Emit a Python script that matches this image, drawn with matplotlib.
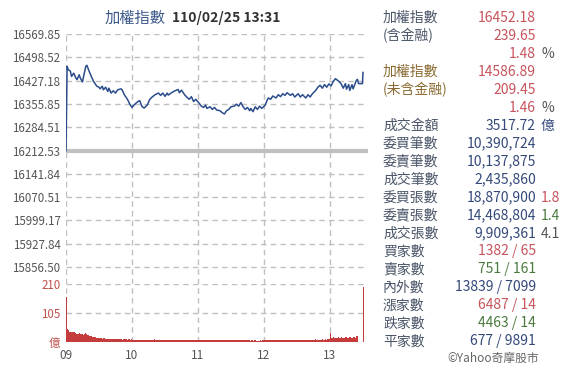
import numpy as np
import matplotlib
matplotlib.use("Agg")
import matplotlib.pyplot as plt

plt.rcParams['font.family'] = ['Noto Sans CJK TC', 'DejaVu Sans']

W, H = 576, 377

# ---------------- data ----------------
prev_close = 16212.53
price_ticks = [16569.85, 16498.52, 16427.18, 16355.85, 16284.51, 16212.53,
               16141.84, 16070.51, 15999.17, 15927.84, 15856.50]
hour_labels = ["09", "10", "11", "12", "13"]
vol_ticks = [0, 105, 210]
vol_tick_labels = ["億", "105", "210"]

# minutes after 09:00 and index level
price_min = [0, 1, 2, 4, 5, 7, 9, 10, 12, 13, 15, 16, 18, 19, 21, 23, 25, 28, 30, 31,
             33, 34, 36, 38, 39, 41, 43, 45, 47, 50, 51, 53, 56, 58, 60, 62, 65, 67, 69,
             71, 74, 76, 78, 81, 84, 86, 88, 90, 92, 93, 96, 99, 102, 103, 105, 108, 110,
             112, 114, 116, 118, 121, 123, 125, 127, 128, 131, 133, 135, 137, 140, 142,
             144, 146, 148, 150, 153, 155, 157, 159, 161, 163, 165, 167, 168, 170, 172,
             174, 176, 178, 181, 183, 184, 186, 188, 191, 193, 195, 197, 199, 201, 204,
             206, 208, 211, 213, 215, 218, 220, 222, 224, 227, 229, 231, 233, 235, 237,
             239, 241, 243, 245, 248, 250, 252, 254, 255, 257, 258, 260, 261, 264, 265,
             266, 269.5, 270]
price_val = [16212.53, 16471, 16461, 16456, 16440, 16450, 16435, 16430, 16445, 16435,
             16423, 16440, 16471, 16474, 16456, 16440, 16425, 16410, 16407, 16402,
             16410, 16399, 16407, 16394, 16404, 16389, 16396, 16389, 16399, 16402,
             16399, 16384, 16369, 16355, 16345, 16353, 16362, 16366, 16348, 16343,
             16353, 16369, 16376, 16384, 16389, 16382, 16389, 16379, 16389, 16383,
             16390, 16396, 16400, 16390, 16398, 16383, 16376, 16370, 16378, 16363,
             16370, 16358, 16349, 16345, 16352, 16342, 16347, 16339, 16345, 16337,
             16335, 16329, 16325, 16335, 16339, 16347, 16349, 16355, 16349, 16360,
             16347, 16339, 16345, 16335, 16342, 16332, 16347, 16339, 16349, 16342,
             16352, 16368, 16374, 16370, 16380, 16374, 16384, 16378, 16387, 16382,
             16390, 16382, 16387, 16377, 16387, 16377, 16384, 16374, 16384, 16377,
             16387, 16397, 16407, 16413, 16404, 16415, 16407, 16417, 16411, 16425,
             16433, 16425, 16418, 16404, 16418, 16401, 16415, 16397, 16415, 16402,
             16428, 16431, 16418, 16418, 16452.18]

# per-minute turnover (億)
vol_open = [162, 48, 44, 38, 36, 36, 35, 37, 34, 30, 30, 29, 31, 28, 30, 27, 30, 32, 29, 27,
            24, 22, 21, 20, 19, 18, 17, 16, 16, 15]
vol_0930 = [14, 13, 13, 12, 13, 12, 12, 11, 12, 11, 11, 12, 11, 10, 11, 10, 10, 11, 10, 10,
            10, 9, 10, 11, 10, 9, 10, 10, 9, 12]
vol_midday = [9, 8, 9, 8, 8, 9, 8, 7, 8, 9, 8, 8, 7, 8, 9, 8, 7, 8, 8, 9,
              10, 8, 7, 8, 8, 7, 8, 9, 8, 7, 8, 7, 8, 7, 8, 9, 8, 7, 7, 8,
              8, 7, 8, 8, 7, 8, 9, 8, 7, 7, 8, 7, 8, 8, 7, 8, 7, 7, 8, 7,
              7, 8, 7, 7, 8, 7, 6, 7, 8, 7, 7, 8, 7, 6, 7, 7, 8, 7, 6, 7,
              7, 6, 7, 7, 6, 7, 7, 6, 7, 8, 7, 6, 7, 7, 6, 7, 6, 7, 7, 6,
              7, 6, 7, 6, 7, 7, 6, 5, 6, 6, 5, 6, 6, 5, 4, 5, 6, 5, 6, 7,
              6, 7, 6, 7, 6, 7, 9, 7, 6, 7, 6, 7, 6, 7, 8, 7, 6, 7, 6, 7,
              8, 7, 6, 7, 7, 8, 7, 6, 7, 8, 7, 8, 7, 8, 9, 8, 7, 8, 8, 9,
              8, 9, 8, 9, 8, 9, 10, 9, 8, 9, 9, 8, 9, 10, 9, 10, 9, 10, 11, 10]
vol_1300 = [33, 16, 15, 17, 14, 16, 15, 18, 16, 15, 17, 16, 14, 15, 17, 16, 15, 18, 17, 16,
            15, 19, 17, 16, 20]
vol_auction = [0, 0, 0, 0, 0]
vol_close = [200]
volume = vol_open + vol_0930 + vol_midday + vol_1300 + vol_auction + vol_close

panel_labels = ["加權指數", "(含金融)", "", "加權指數", "(未含金融)", "", "成交金額", "委買筆數",
                "委賣筆數", "成交筆數", "委買張數", "委賣張數", "成交張數", "買家數", "賣家數",
                "內外數", "漲家數", "跌家數", "平家數"]
panel_values = ["16452.18", "239.65", "1.48", "14586.89", "209.45", "1.46", "3517.72",
                "10,390,724", "10,137,875", "2,435,860", "18,870,900", "14,468,804",
                "9,909,361", "1382 / 65", "751 / 161", "13839 / 7099", "6487 / 14",
                "4463 / 14", "677 / 9891"]
panel_suffix = ["", "", "%", "", "", "%", "億", "", "", "", "1.8", "1.4", "4.1",
                "", "", "", "", "", ""]

RED = "#c8545c"
GREEN = "#4b7a3e"
NAVY = "#34497a"
LABEL = "#4a5568"
BROWN = "#8a6a30"
GRAY = "#555555"
label_colors = [LABEL, LABEL, LABEL, BROWN, BROWN, BROWN] + [LABEL] * 13
value_colors = [RED, RED, RED, RED, RED, RED, NAVY, NAVY, NAVY, NAVY, NAVY, NAVY, NAVY,
                RED, GREEN, NAVY, RED, GREEN, NAVY]
suffix_colors = [GRAY, GRAY, GRAY, GRAY, GRAY, GRAY, NAVY, GRAY, GRAY, GRAY, RED, GREEN,
                 GRAY, GRAY, GRAY, GRAY, GRAY, GRAY, GRAY]

# ---------------- layout helpers ----------------
fig = plt.figure(figsize=(W / 100, H / 100), dpi=100)
fig.patch.set_facecolor("white")


def rect(x0, y0, x1, y1):
    return [x0 / W, 1 - y1 / H, (x1 - x0) / W, (y1 - y0) / H]


def fx(x):
    return x / W


def fy(y):
    return 1 - y / H


X0, X1 = 66, 368
Y_TOP, Y_MID, Y_BOT = 34, 284, 342
step_px = 23.3
p_per_px = (price_ticks[0] - price_ticks[-1]) / (10 * step_px)
p_bottom = price_ticks[0] - (Y_MID - Y_TOP) * p_per_px
xmax = (X1 - X0) / 66 * 60
hour_pos = [h * 60 for h in range(5)]

GRID = "#c0c0c0"
DASH = (0, (4, 3))

# price axes
axp = fig.add_axes(rect(X0, Y_TOP, X1, Y_MID))
axp.set_xlim(0, xmax)
axp.set_ylim(p_bottom, price_ticks[0])
for s in axp.spines.values():
    s.set_visible(False)
for t in price_ticks:
    if t != prev_close:
        axp.axhline(t, color=GRID, linestyle=DASH, linewidth=1.0)
for h in hour_pos:
    axp.axvline(h, color=GRID, linestyle=DASH, linewidth=1.0)
axp.axhline(prev_close, color="#c0c0c0", linewidth=3)
axp.plot(price_min, price_val, color="#2b4d8c", linewidth=1.1, zorder=3)
axp.set_yticks(price_ticks)
axp.set_yticklabels([f"{t:.2f}" for t in price_ticks])
axp.tick_params(axis="y", length=0, pad=4, labelsize=8.3, labelcolor="#555555")
axp.set_xticks([])

# volume axes
axv = fig.add_axes(rect(X0, Y_MID, X1, Y_BOT))
axv.patch.set_alpha(0)
axv.set_xlim(0, xmax)
axv.set_ylim(0, 210)
for s in axv.spines.values():
    s.set_visible(False)
for t in vol_ticks:
    axv.axhline(t, color=GRID, linestyle=DASH, linewidth=1.0)
for h in hour_pos:
    axv.axvline(h, color=GRID, linestyle=DASH, linewidth=1.0)
axv.bar(np.arange(len(volume)), volume, width=1.0, align="edge",
        color="#c43c3c", linewidth=0, zorder=3)
axv.set_yticks(vol_ticks)
axv.set_yticklabels(vol_tick_labels)
axv.tick_params(axis="y", length=0, pad=4, labelsize=8.3, labelcolor="#c0504d")
axv.set_xticks(hour_pos)
axv.set_xticklabels(hour_labels)
axv.tick_params(axis="x", length=0, pad=5, labelsize=8.5, labelcolor="#555555")

# title
fig.text(fx(166), fy(18), "加權指數", ha="right", va="center", fontsize=11,
         color="#3d5a8a")
fig.text(fx(172), fy(18), "110/02/25 13:31", ha="left", va="center", fontsize=10,
         fontweight="bold", color="#333333")

# right panel
row_y0, row_dy = 17.5, 18.0
for i in range(len(panel_labels)):
    y = fy(row_y0 + i * row_dy)
    if panel_labels[i]:
        fig.text(fx(383), y, panel_labels[i], ha="left", va="center", fontsize=10,
                 color=label_colors[i])
    fig.text(fx(536), y, panel_values[i], ha="right", va="center", fontsize=10,
             color=value_colors[i])
    if panel_suffix[i]:
        fig.text(fx(541), y, panel_suffix[i], ha="left", va="center", fontsize=10,
                 color=suffix_colors[i])

fig.text(fx(539), fy(358), "©Yahoo奇摩股市", ha="right", va="center", fontsize=8.5,
         color="#666666")

fig.savefig("out.png", dpi=100, facecolor="white")
